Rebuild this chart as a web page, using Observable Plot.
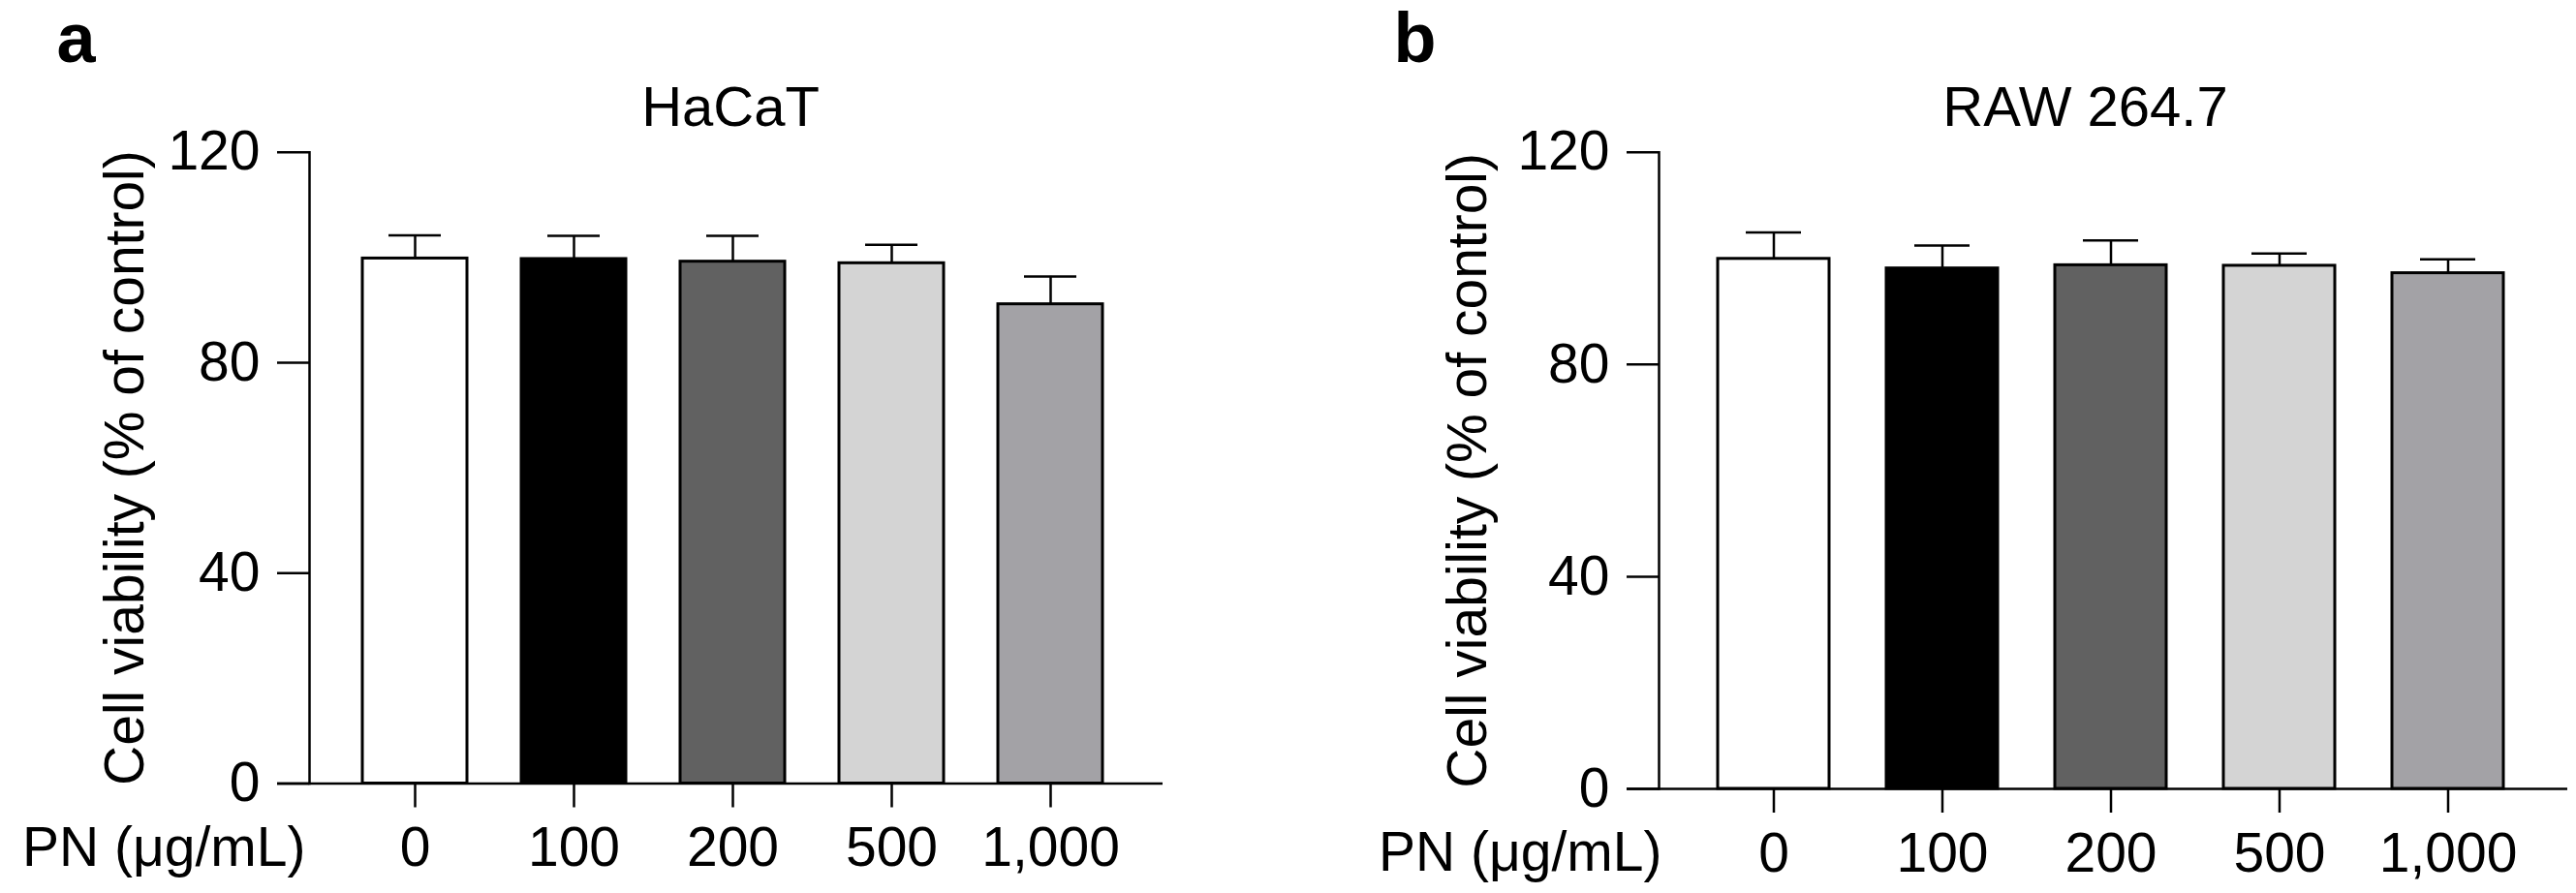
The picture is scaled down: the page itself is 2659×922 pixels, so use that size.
<!DOCTYPE html>
<html>
<head>
<meta charset="utf-8">
<script src="https://cdn.jsdelivr.net/npm/d3@7"></script>
<script src="https://cdn.jsdelivr.net/npm/@observablehq/plot@0.6"></script>
<style>
  html, body { margin: 0; padding: 0; background: #ffffff; }
  #row { display: flex; flex-direction: row; width: 2659px; height: 922px; }
  svg { display: block; }
</style>
</head>
<body>
<div id="row"></div>
<script>
// ---- data ----
const doses = ["0", "100", "200", "500", "1,000"];
const barColors = ["#ffffff", "#000000", "#616161", "#d4d4d4", "#a3a2a6"];
const yTicks = [0, 40, 80, 120];

const hacatMean = [99.8, 99.7, 99.2, 98.9, 91.1];
const hacatSD   = [4.4, 4.4, 4.9, 3.5, 5.3];

const rawMean = [99.9, 98.1, 98.7, 98.6, 97.2];
const rawSD   = [5.0, 4.3, 4.7, 2.3, 2.6];

const yLabel = "Cell viability (% of control)";
const xLabel = "PN (\u03bcg/mL)";

const FONT = "'Liberation Sans', Arial, Helvetica, sans-serif";

function panel(o) {
  const rows = doses.map((d, i) => ({dose: d, mean: o.means[i], top: o.means[i] + o.sds[i]}));
  return Plot.plot({
    width: o.width,
    height: 922,
    marginTop: 156.7,
    marginBottom: o.marginBottom,
    marginLeft: o.marginLeft,
    marginRight: o.marginRight,
    style: {fontFamily: FONT, fontSize: "57px", background: "#ffffff", color: "#000000"},
    x: {domain: doses, paddingInner: o.paddingInner, paddingOuter: o.paddingOuter, align: o.align, axis: null},
    y: {domain: [0, 120], axis: null},
    color: {domain: doses, range: barColors},
    marks: [
      Plot.barY(rows, {x: "dose", y: "mean", fill: "dose", stroke: "#000000", strokeWidth: 3}),
      Plot.ruleX(rows, {x: "dose", y1: "mean", y2: "top", stroke: "#000000", strokeWidth: 2.5}),
      Plot.tickY(rows, {x: "dose", y: "top", stroke: "#000000", strokeWidth: 2.5, inset: o.capInset}),
      Plot.ruleY([0], {stroke: "#000000", strokeWidth: 2.5, insetLeft: -33}),
      Plot.frame({anchor: "left", stroke: "#000000", strokeWidth: 2.5}),
      Plot.axisY({ticks: yTicks, tickSize: 33, tickPadding: 18, fontSize: 57, stroke: "#000000", strokeWidth: 2.5, label: null}),
      Plot.axisX({tickSize: 25, tickPadding: 20, fontSize: 57, stroke: "#000000", strokeWidth: 2.5, label: null}),
      Plot.text([xLabel], {text: d => d, frameAnchor: "bottom-left", textAnchor: "end", lineAnchor: "bottom", dx: o.xLabelDx, dy: 84.5, fontSize: 57, fill: "#000000"}),
      Plot.text([yLabel], {text: d => d, frameAnchor: "left", rotate: -90, textAnchor: "middle", lineAnchor: "bottom", dx: o.yLabelDx, fontSize: 57, fill: "#000000"}),
      Plot.text([o.title], {text: d => d, frameAnchor: "top", lineAnchor: "bottom", dx: o.titleDx, dy: -27.4, fontSize: 58, fill: "#000000"}),
      Plot.text([o.letter], {text: d => d, frameAnchor: "top-left", textAnchor: "start", lineAnchor: "bottom", dx: o.letterDx, dy: -93.7, fontSize: 72, fontWeight: "bold", fill: "#000000"})
    ]
  });
}

const row = document.getElementById("row");
row.append(panel({
  letter: "a", title: "HaCaT", means: hacatMean, sds: hacatSD,
  width: 1330, marginLeft: 319, marginRight: 130, marginBottom: 113.5,
  paddingInner: 0.341, paddingOuter: 0.356, align: 0.47, capInset: 27,
  xLabelDx: -4, yLabelDx: -172, titleDx: -6, letterDx: -261
}));
row.append(panel({
  letter: "b", title: "RAW 264.7", means: rawMean, sds: rawSD,
  width: 1329, marginLeft: 382, marginRight: 9, marginBottom: 108,
  paddingInner: 0.337, paddingOuter: 0.349, align: 0.484, capInset: 29,
  xLabelDx: 3, yLabelDx: -179, titleDx: -29, letterDx: -274
}));
</script>
</body>
</html>
